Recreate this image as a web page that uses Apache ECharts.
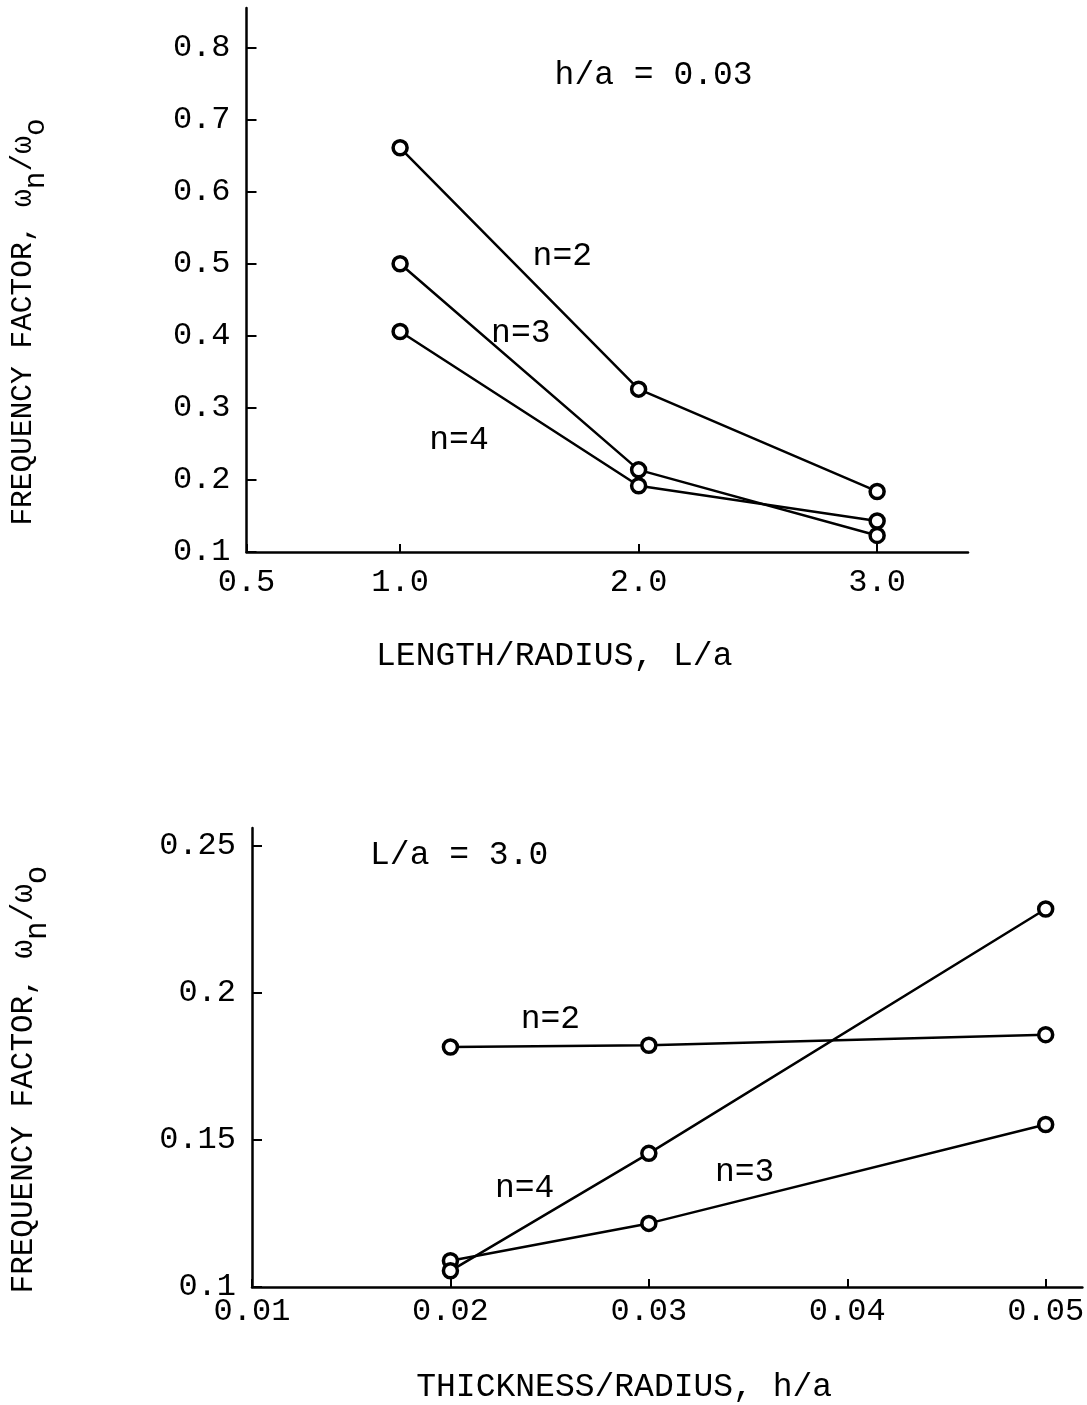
<!DOCTYPE html>
<html>
<head>
<meta charset="utf-8">
<script src="https://cdn.jsdelivr.net/npm/echarts@6/dist/echarts.min.js"></script>
<style>
  html, body { margin: 0; padding: 0; background: #fff; }
  #main { width: 1087px; height: 1405px; }
</style>
</head>
<body>
<div id="main"></div>
<script>
// upper plot: frequency factor vs L/a  (h/a = 0.03)
var lengthRatio = [1.0, 2.0, 3.0];
var topN2 = [0.661, 0.326, 0.184];
var topN3 = [0.500, 0.214, 0.123];
var topN4 = [0.406, 0.192, 0.143];

// lower plot: frequency factor vs h/a  (L/a = 3.0)
var thicknessRatio = [0.02, 0.03, 0.05];
var botN2 = [0.1815, 0.1821, 0.1857];
var botN3 = [0.1089, 0.1216, 0.1552];
var botN4 = [0.1055, 0.1454, 0.2284];

// tick values / labels
var topXTicks = [0.356, 1, 2, 3];
var topXLabels = ['0.5', '1.0', '2.0', '3.0'];
var topYTicks = [0.1, 0.2, 0.3, 0.4, 0.5, 0.6, 0.7, 0.8];
var topYLabels = ['0.1', '0.2', '0.3', '0.4', '0.5', '0.6', '0.7', '0.8'];
var botXTicks = [0.01, 0.02, 0.03, 0.04, 0.05];
var botXLabels = ['0.01', '0.02', '0.03', '0.04', '0.05'];
var botYTicks = [0.1, 0.15, 0.2, 0.25];
var botYLabels = ['0.1', '0.15', '0.2', '0.25'];

// text notes, in data coordinates
var topNotes = [
  { name: 'h/a = 0.03', value: [2.063, 0.762] },
  { name: 'n=2', value: [1.68, 0.51] },
  { name: 'n=3', value: [1.506, 0.404] },
  { name: 'n=4', value: [1.247, 0.2555] }
];
var botNotes = [
  { name: 'L/a = 3.0', value: [0.02044, 0.2467] },
  { name: 'n=2', value: [0.02504, 0.1908] },
  { name: 'n=4', value: [0.02374, 0.1335] },
  { name: 'n=3', value: [0.03483, 0.1390] }
];

var FONT = '"Liberation Mono", "DejaVu Sans Mono", monospace';

function pickLabel(ticks, labels) {
  return function (v) {
    for (var i = 0; i < ticks.length; i++) {
      if (Math.abs(ticks[i] - v) < 1e-9) return labels[i];
    }
    return '';
  };
}

function pairs(xs, ys) {
  return xs.map(function (x, i) { return [x, ys[i]]; });
}

var yName = '{m|FREQUENCY FACTOR, ω}{s|n}{m|/ω}{s|o}';
function yNameRich(size) {
  return {
    m: { fontFamily: FONT, fontSize: size, color: '#000', lineHeight: size + 14, verticalAlign: 'top' },
    s: { fontFamily: FONT, fontSize: size, color: '#000', lineHeight: size + 14, verticalAlign: 'bottom' }
  };
}

function xAxisCfg(gridIndex, min, max, ticks, labels, name, nameGap, namePad, margin) {
  return {
    type: 'value', gridIndex: gridIndex, min: min, max: max,
    name: name, nameLocation: 'middle', nameGap: nameGap,
    nameTextStyle: { fontFamily: FONT, fontSize: 33, color: '#000', padding: namePad },
    axisLine: { show: true, onZero: false, lineStyle: { color: '#000', width: 2.5 } },
    axisTick: { show: true, inside: true, length: 8, customValues: ticks, lineStyle: { color: '#000', width: 2 } },
    axisLabel: { show: true, customValues: ticks, margin: margin, fontFamily: FONT, fontSize: 32, color: '#000',
      formatter: pickLabel(ticks, labels) },
    splitLine: { show: false }
  };
}

function yAxisCfg(gridIndex, min, max, ticks, labels, nameGap, namePad, nameSize) {
  return {
    type: 'value', gridIndex: gridIndex, min: min, max: max,
    name: yName, nameLocation: 'middle', nameGap: nameGap, nameRotate: 90,
    nameTextStyle: { fontFamily: FONT, fontSize: nameSize, color: '#000', padding: namePad, rich: yNameRich(nameSize) },
    axisLine: { show: true, onZero: false, lineStyle: { color: '#000', width: 2.5 } },
    axisTick: { show: true, inside: true, length: 10, customValues: ticks, lineStyle: { color: '#000', width: 2 } },
    axisLabel: { show: true, customValues: ticks, margin: 16, fontFamily: FONT, fontSize: 32, color: '#000',
      formatter: pickLabel(ticks, labels) },
    splitLine: { show: false }
  };
}

function lineSeries(idx, xs, ys) {
  return {
    type: 'line', xAxisIndex: idx, yAxisIndex: idx,
    data: pairs(xs, ys),
    symbol: 'circle', symbolSize: 14, showSymbol: true,
    lineStyle: { color: '#000', width: 2.5 },
    itemStyle: { color: '#fff', borderColor: '#000', borderWidth: 3.5 },
    z: 3
  };
}

function noteSeries(idx, notes) {
  return {
    type: 'scatter', xAxisIndex: idx, yAxisIndex: idx,
    data: notes, symbolSize: 0, silent: true,
    itemStyle: { opacity: 1, color: '#000' },
    label: { show: true, position: 'inside', formatter: '{b}',
      fontFamily: FONT, fontSize: 33, color: '#000', opacity: 1 },
    z: 4
  };
}

var chart = echarts.init(document.getElementById('main'), null, { renderer: 'canvas' });
var option = {
  backgroundColor: '#fff',
  animation: false,
  grid: [
    { left: 245, top: 8, width: 723, height: 544 },
    { left: 250, top: 828, width: 837, height: 460 }
  ],
  xAxis: [
    xAxisCfg(0, 0.356, 3.381, topXTicks, topXLabels, 'LENGTH/RADIUS, L/a', 88, [0, 106, 0, 0], 15),
    xAxisCfg(1, 0.01, 0.05185, botXTicks, botXLabels, 'THICKNESS/RADIUS, h/a', 84, [0, 86, 0, 0], 9)
  ],
  yAxis: [
    yAxisCfg(0, 0.1, 0.855, topYTicks, topYLabels, 195, [0, 84, 0, 0], 29.5),
    yAxisCfg(1, 0.1, 0.2559, botYTicks, botYLabels, 199, [0, 44, 0, 0], 31)
  ],
  series: [
    lineSeries(0, lengthRatio, topN2),
    lineSeries(0, lengthRatio, topN3),
    lineSeries(0, lengthRatio, topN4),
    lineSeries(1, thicknessRatio, botN2),
    lineSeries(1, thicknessRatio, botN3),
    lineSeries(1, thicknessRatio, botN4),
    noteSeries(0, topNotes),
    noteSeries(1, botNotes)
  ]
};
chart.setOption(option);
</script>
</body>
</html>
